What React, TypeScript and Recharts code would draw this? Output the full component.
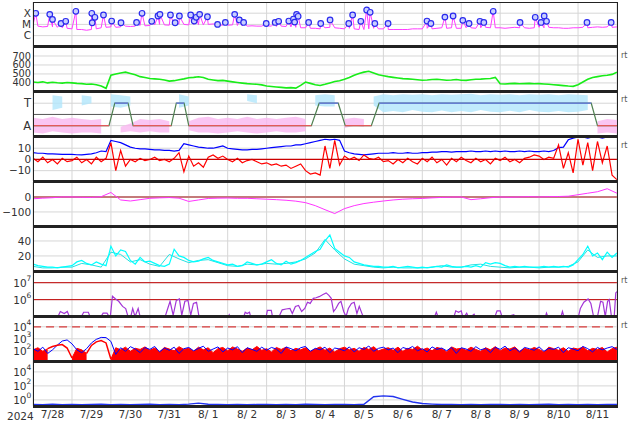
import React from 'react'
import { ComposedChart, Line, Area, XAxis, YAxis, CartesianGrid, ReferenceLine } from 'recharts'

// --- layout (not data) ---
const W = 634
const AXIS_W = 33
const RIGHT = 17
const EDGES = [2, 46.8, 91.7, 136.6, 181.5, 226.4, 271.3, 316.2, 361.1, 406]
const FONT = 'DejaVu Sans, sans-serif'

// --- time axis: days since 2024-07-28 00:00 ---
const dayLabels = ['7/28', '7/29', '7/30', '7/31', '8/ 1', '8/ 2', '8/ 3', '8/ 4', '8/ 5', '8/ 6', '8/ 7', '8/ 8', '8/ 9', '8/10', '8/11']
const dayLines = [0, 1, 2, 3, 4, 5, 6, 7, 8, 9, 10, 11, 12, 13, 14, 15]
const labelTicks = dayLabels.map((_, i) => i + 0.5)

// X-ray background flux (1e-6 W/m2), every 3 h
const xrayBase = [
  9, 7, 6, 6.5, 6, 5.5, 5, 4.5,
  4, 3.5, 3.5, 3, 3.5, 4, 5, 5.5,
  6, 5.5, 6, 7, 6.5, 7, 8, 7.5,
  8, 9, 10, 9, 8.5, 10, 11, 10,
  9, 10, 9.5, 9, 10, 11, 9, 8.5,
  8.5, 9, 8, 7.5, 7, 7.5, 7, 7,
  7.5, 7, 6.5, 7, 6.5, 6, 5.5, 5,
  5, 4.5, 4.5, 4, 5, 5.5, 5, 4.5,
  4, 4.5, 4, 3.5, 3.5, 4, 4.5, 4,
  4, 3.5, 3.5, 3.5, 3.5, 3.5, 4, 4,
  4, 4.5, 4, 4.5, 5, 4.5, 5, 4.5,
  4.5, 5, 5, 4.5, 5, 5.5, 5, 5,
  5, 4.5, 5, 5.5, 5, 5, 4.5, 5,
  5.5, 5, 5.5, 5, 5, 4.5, 4.5, 5,
  5, 5.5, 5, 5.5, 6, 5.5, 6, 5.5,
  6,
]

// flare peaks (day, 1e-6 W/m2)
const flareDay = [
  0.07, 0.43, 0.5, 0.72, 0.84, 1.1, 1.51, 1.59, 1.52, 1.81, 2.02, 2.26, 2.66, 2.8, 3.05, 3.21,
  3.26, 3.53, 3.65, 3.76, 4.05, 4.14, 4.19, 4.28, 4.48, 4.74, 4.94, 5.18, 5.3, 5.41, 5.99, 6.22,
  6.31, 6.57, 6.69, 6.72, 6.77, 6.81, 7.08, 7.39, 7.63, 8.11, 8.21, 8.42, 8.57, 8.66, 8.78, 9.12,
  10.12, 10.22, 10.58, 10.79, 11.04, 11.2, 11.48, 11.58, 11.82, 12.51, 12.9, 13.05, 13.13, 13.19, 14.23, 14.85,
]
const flareFlux = [
  98, 79, 28, 12, 19, 148, 98, 43, 14, 69, 20, 14, 15, 98, 19, 56,
  79, 69, 14, 56, 69, 20, 43, 79, 48, 10, 15, 79, 25, 15, 12, 15,
  19, 20, 30, 16, 79, 53, 15, 12, 25, 12, 69, 19, 193, 120, 12, 12,
  20, 12, 45, 56, 23, 12, 19, 15, 148, 15, 43, 15, 56, 19, 15, 15,
]

// solar wind speed (km/s), every 3 h
const speed = [
  410, 405, 412, 400, 408, 402, 398, 405,
  400, 395, 392, 385, 388, 380, 365, 340,
  485, 500, 510, 520, 505, 490, 470, 460,
  450, 445, 440, 432, 420, 425, 435, 445,
  458, 462, 468, 460, 440, 432, 425, 428,
  420, 412, 405, 398, 392, 388, 385, 378,
  365, 360, 355, 350, 345, 348, 342, 372,
  410, 395, 380, 372, 385, 400, 415, 425,
  440, 460, 485, 505, 520, 530, 510, 490,
  480, 470, 462, 455, 448, 445, 440, 435,
  430, 432, 438, 440, 435, 430, 432, 438,
  430, 428, 435, 440, 442, 446, 450, 462,
  390, 388, 392, 395, 390, 392, 395, 390,
  392, 388, 385, 380, 375, 370, 365, 362,
  380, 410, 440, 460, 470, 480, 485, 495,
  520,
]

// T / A state: 1 = T, 0 = A
const stateDay = [0, 1.95, 2.1, 2.44, 2.57, 3.55, 3.68, 3.88, 4.0, 7.15, 7.35, 7.84, 8.02, 8.69, 8.89, 14.34, 14.5, 15]
const stateVal = [0, 0, 1, 1, 0, 0, 1, 1, 0, 0, 1, 1, 0, 0, 1, 1, 0, 0]

// scattered samples around A and T (every 6 h), low/high
const pinkLo = [
  -0.3, -0.35, -0.25, -0.3, -0.35, -0.3, -0.3, -0.35, null, -0.3, -0.25, -0.3, -0.25, -0.3, -0.3, null,
  -0.2, -0.3, -0.3, -0.35, -0.3, -0.25, -0.3, -0.35, -0.3, -0.25, -0.3, -0.3, -0.25, null, null, null,
  -0.1, 0.0, -0.05, null, null, null, null, null, null, null, null, null, null, null, null, null,
  null, null, null, null, null, null, null, null, null, null, -0.35, -0.3, -0.35,
]
const pinkHi = [
  0.35, 0.3, 0.4, 0.3, 0.35, 0.3, 0.25, 0.3, null, -0.05, 0.1, 0.3, 0.25, 0.3, 0.2, null,
  0.2, 0.35, 0.4, 0.3, 0.35, 0.3, 0.4, 0.3, 0.35, 0.3, 0.35, 0.4, 0.3, null, null, null,
  0.3, 0.35, 0.3, null, null, null, null, null, null, null, null, null, null, null, null, null,
  null, null, null, null, null, null, null, null, null, null, 0.2, 0.3, 0.25,
]
const blueLo = [
  null, null, 0.7, 0.8, null, 0.9, 1.0, null, 0.85, 0.8, 0.9, null, null, null, null, 0.8,
  0.9, null, null, null, null, null, 1.1, 1.0, null, null, null, null, null, 0.9, 0.85, 0.85,
  null, null, null, 0.9, 0.6, 0.65, 0.6, 0.7, 0.62, 0.6, 0.68, 0.6, 0.65, 0.6, 0.7, 0.62,
  0.6, 0.66, 0.6, 0.7, 0.62, 0.6, 0.65, 0.6, 0.62, 0.7, null, null, null,
]
const blueHi = [
  null, null, 1.35, 1.3, null, 1.35, 1.3, null, 1.4, 1.35, 1.3, null, null, null, null, 1.4,
  1.3, null, null, null, null, null, 1.4, 1.35, null, null, null, null, null, 1.35, 1.4, 1.35,
  null, null, null, 1.3, 1.4, 1.35, 1.4, 1.38, 1.4, 1.35, 1.4, 1.38, 1.4, 1.42, 1.36, 1.4,
  1.38, 1.4, 1.35, 1.4, 1.38, 1.4, 1.36, 1.4, 1.38, 1.35, null, null, null,
]

// IMF Bt and Bz (nT), every 3 h
const bt = [
  6, 5.5, 5.5, 5, 5, 4.8, 4.5, 4.5,
  4.5, 4.2, 4, 4.5, 5, 6, 7.5, 7,
  17, 16, 15, 13, 11, 10, 9.5, 9.5,
  9, 8.5, 8.5, 8, 8, 7.5, 8, 14,
  13, 12, 11, 10.5, 10, 10, 11, 12,
  10, 9.5, 9, 8.5, 8.5, 9, 9, 9.5,
  10, 10.5, 11, 11.5, 12, 12, 13, 13,
  14, 15, 16, 17, 18, 17.5, 18, 17,
  7.5, 6, 5, 4.5, 4, 4.5, 5, 5.5,
  5.5, 5.5, 6, 5.5, 5.5, 6, 5.5, 5.5,
  6, 6, 6.5, 6.5, 7, 7, 6.5, 7,
  7, 7, 7.5, 7, 7, 7.5, 7, 7.5,
  7, 7.5, 7, 7, 7.5, 7, 7.5, 7,
  7, 7.5, 7, 8, 10.5, 11, 17.5, 19,
  20, 20, 19, 20, 20, 19, 20, 20,
  20,
]
const bz = [
  1, -2, 2, -3, 0, -4, 1, -2,
  -1, 2, -3, 0, -4, 2, -2, 1,
  15, -10, 8, -6, 0, -2, 1, -1,
  0, 2, -1, 0, -2, 1, 6, -11,
  3, -6, -3, -7, 2, 4, 1, 3,
  0, -2, 1, -3, -1, 0, -2, -4,
  -3, -5, -4, -6, -5, -8, -6, -4,
  -10, -13, -12, -14, 12, -8, 17, -5,
  3, 0, 2, -1, 4, 1, 0, 2,
  -2, -1, -4, 0, -3, 1, -2, -4,
  1, -2, 2, -3, 0, -5, 1, -2,
  2, -1, -3, 1, -2, 0, -4, 1,
  -1, 2, -2, 0, -3, 1, 2, 4,
  3, 0, 2, 1, 13, -8, 6, -12,
  18, -5, 15, -10, 16, -3, 12, -14,
  -18,
]

// Dst (nT), every 6 h
const dst = [
  -12, -8, -5, 0, 0, -2, -3, 2,
  30, -20, -27, -18, -9, -6, -4, -8,
  -30, -20, -10, -8, -7, -9, -9, -12,
  -15, -18, -22, -28, -38, -58, -85, -111,
  -78, -58, -44, -35, -27, -20, -15, -12,
  -10, -6, -3, -1, 0, -18, -12, -5,
  0, -2, 0, 2, 0, 2, 3, 5,
  15, 25, 35, 55,
  25,
]

// density, two sources
const dens1 = [
  9, 7, 6, 5, 5, 4, 5, 6,
  7, 12, 14, 10, 8, 12, 9, 7,
  33, 20, 28, 26, 14, 9, 18, 12,
  13, 10, 7, 6, 9, 29, 20, 18,
  14, 12, 13, 16, 18, 14, 12, 10,
  8, 9, 6, 7, 12, 10, 8, 9,
  12, 15, 10, 8, 13, 9, 11, 14,
  18, 22, 26, 29, 40, 48, 30, 25,
  20, 18, 12, 10, 8, 7, 6, 6,
  5, 5, 6, 4, 5, 6, 5, 4,
  5, 4, 5, 6, 5, 8, 6, 5,
  5, 6, 5, 7, 5, 11, 9, 11,
  10, 7, 5, 6, 5, 6, 5, 5,
  5, 6, 5, 6, 5, 6, 5, 8,
  15, 22, 33, 20, 24, 15, 25, 18,
  24,
]
const dens2 = [
  6, 4, 4, 5, 5, 10, 8, 5,
  25, 22, 12, 15, 9, 6, 22, 16,
  11, 14, 15, 11, 7, 6, 9, 8,
  10, 9, 10, 12, 16, 24, 42, 28,
  16, 9, 7, 5, 4, 5, 4, 4,
  4, 5, 7, 5, 5, 8, 9, 6,
  5, 4, 5, 5, 4, 5, 5, 6,
  12, 28, 18, 20,
  20,
]

// proton flux
const protonDay = [
  0, 0.62, 0.7, 0.8, 0.88, 0.95, 1.22, 1.3, 1.42, 1.48, 1.72, 1.8, 1.9, 1.98,
  2.04, 2.12, 2.2, 2.3, 2.38, 2.44, 2.5, 2.56, 2.62, 2.7, 2.76,
  3.38, 3.46, 3.52, 3.6, 3.68, 3.76, 3.82, 3.9, 3.98, 4.05, 4.12, 4.2, 4.27,
  5.0, 5.04, 5.08, 5.4, 5.45, 5.5, 5.56, 5.6, 5.98, 6.02, 6.12, 6.16,
  6.3, 6.4, 6.5, 6.6, 6.66, 6.74, 6.82, 6.9, 6.98, 7.05, 7.12, 7.2, 7.27, 7.35, 7.45, 7.53, 7.6, 7.66,
  7.72, 7.78, 7.85, 7.91, 7.98, 8.04, 8.1, 8.18, 8.25, 8.32, 8.38, 8.45, 8.5,
  10.3, 10.36, 10.42, 10.8, 10.86, 10.93, 11.0, 11.05, 11.14, 11.2, 11.33, 11.38,
  11.85, 11.92, 12.0, 12.06, 12.35, 12.4, 13.15, 13.19, 13.24, 13.55, 13.6, 13.65,
  14.0, 14.06, 14.15, 14.26, 14.33, 14.4, 14.5, 14.58, 14.64, 14.7, 14.76, 14.8, 14.86, 14.93, 14.97, 15,
]
const protonFlux = [
  8e4, 8e4, 2e5, 1.5e5, 2e5, 8e4, 8e4, 1.8e5, 1.8e5, 8e4, 8e4, 1.6e5, 1.6e5, 8e4,
  1.6e6, 1.1e6, 8e5, 4e5, 3e5, 1e5, 8e4, 3e5, 1e5, 3e5, 8e4,
  8e4, 3e5, 8e5, 1.2e5, 9e5, 1.1e6, 1.2e5, 8e5, 9e5, 1.2e5, 6e5, 7e5, 8e4,
  8e4, 1.3e5, 8e4, 8e4, 1.8e5, 1.5e5, 1.8e5, 8e4, 8e4, 2.3e5, 2.3e5, 8e4,
  8e4, 2.5e5, 2.8e5, 3e5, 1.5e5, 4e5, 4.5e5, 2e5, 3e5, 7e5, 6e5, 1.2e6, 1.3e6, 1.5e6, 2e6, 2.5e6, 1.8e6, 1.2e6,
  2e5, 3e5, 6e5, 8e5, 2e5, 1e5, 3e5, 6e5, 7e5, 1.5e5, 4e5, 1.5e5, 8e4,
  8e4, 1.8e5, 8e4, 8e4, 2.2e5, 1.8e5, 2.2e5, 8e4, 1.6e5, 8e4, 1.4e5, 8e4,
  8e4, 2.2e5, 2.2e5, 8e4, 1.3e5, 8e4, 8e4, 1.6e5, 8e4, 8e4, 2e5, 8e4,
  8e4, 3e5, 7e5, 1.1e6, 6e5, 1e5, 1e5, 8e5, 7e5, 1e5, 8e5, 1e6, 1e5, 1e5, 2.5e6, 3e6,
]

// electron flux, every 3 h
const eRedFill = [
  120, 180, 90, 150, null, null, null, null,
  25, 160, 120, 60, null, null, null, null,
  20, 180, 120, 200, 90, 160, 130, 210,
  110, 170, 80, 190, 140, 100, 220, 130,
  160, 90, 200, 120, 180, 70, 150, 190,
  100, 210, 140, 90, 170, 120, 230, 110,
  150, 80, 190, 130, 200, 100, 160, 120,
  180, 90, 140, 210, 110, 170, 80, 150,
  200, 120, 160, 90, 190, 130, 220, 100,
  140, 180, 110, 200, 90, 160, 130, 240,
  120, 170, 100, 190, 150, 80, 210, 140,
  160, 110, 200, 130, 90, 180, 120, 220,
  100, 170, 140, 210, 90, 160, 120, 190,
  130, 80, 200, 150, 110, 180, 90, 170,
  140, 210, 100, 160, 130, 190, 80, 150,
  200,
]
const eRedHump = [
  null, null, null, 150, 230, 290, 330, 170,
  25, null, null, 60, 280, 550, 700, 450,
  20,
]
const eBlue = [
  150, 90, 200, 60, 120, 300, 650, 800,
  380, 120, 70, 150, 450, 900, 1300, 1250,
  600, 50, 180, 90, 220, 140, 70, 190,
  130, 230, 80, 170, 110, 200, 60, 150,
  190, 100, 160, 240, 90, 140, 210, 80,
  170, 120, 220, 70, 180, 130, 90, 200,
  110, 190, 140, 60, 210, 150, 100, 180,
  230, 90, 160, 120, 200, 70, 170, 140,
  100, 210, 80, 180, 130, 250, 90, 160,
  200, 120, 170, 70, 190, 140, 230, 100,
  150, 80, 210, 130, 170, 100, 190, 60,
  180, 140, 90, 220, 120, 160, 70, 200,
  130, 240, 100, 170, 80, 190, 150, 110,
  210, 90, 160, 130, 200, 70, 180, 140,
  100, 230, 150, 80, 190, 120, 170, 220,
  130,
]

// bottom panel, every 6 h
const lowFlux = [
  0.22, 0.2, 0.24, 0.21, 0.23, 0.2, 0.22, 0.24,
  0.21, 0.23, 0.2, 0.22, 0.24, 0.21, 0.22, 0.2,
  0.25, 0.35, 0.24, 0.22, 0.21, 0.23, 0.2, 0.22,
  0.23, 0.21, 0.22, 0.2, 0.24, 0.22, 0.21, 0.23,
  0.22, 0.21, 0.24, 2.8, 3.7, 3.0, 1.2, 0.5,
  0.3, 0.25, 0.22, 0.23, 0.21, 0.22, 0.2, 0.23,
  0.22, 0.21, 0.23, 0.2, 0.22, 0.24, 0.21, 0.22,
  0.2, 0.22, 0.21, 0.23,
  0.22,
]

// --- rows built from the arrays above ---
const rows = (vals: (number | null)[], step: number) => vals.map((v, i) => ({ d: i * step, v }))
const flareRows = flareDay.map((d, i) => ({ d, v: flareFlux[i] }))
const xrayRows = [...rows(xrayBase, 0.125), ...flareRows].sort((a, b) => a.d - b.d)
const stateRows = stateDay.map((d, i) => ({
  d,
  v: stateVal[i],
  a: stateVal[i] === 0 ? 0 : null,
  t: stateVal[i] === 1 ? 1 : null,
}))
const pinkRows = pinkLo.map((lo, i) => ({ d: i * 0.25, lo, hi: pinkHi[i] }))
const cloudRows = blueLo.map((lo, i) => ({ d: i * 0.25, lo, hi: blueHi[i] }))
const rangeKey = (r: any) => (r.lo == null ? null : [r.lo, r.hi])
const protonRows = protonDay.map((d, i) => ({ d, v: protonFlux[i] }))

// --- ticks ---
const textTick = (fmt: (v: number) => string, size = 10.5) => (p: any) => (
  <text x={p.x} y={p.y} dy={size * 0.36} textAnchor="end" fontSize={size} fill="#333" fontFamily={FONT}>
    {fmt(p.payload.value)}
  </text>
)
const powTick = (p: any) => {
  const e = Math.round(Math.log10(p.payload.value))
  return (
    <g>
      <text x={p.x - 4.5} y={p.y + 4} textAnchor="end" fontSize={10.5} fill="#333" fontFamily={FONT}>10</text>
      <text x={p.x - 4.5} y={p.y - 1.5} textAnchor="start" fontSize={7.5} fill="#333" fontFamily={FONT}>{e}</text>
    </g>
  )
}
const num = (v: number) => (v < 0 ? '\u2212' + Math.abs(v) : String(v))
const flareClass: Record<number, string> = { 100: 'X', 10: 'M', 1: 'C' }

type PanelProps = {
  i: number
  domain: [number, number]
  ticks: number[]
  log?: boolean
  tick: any
  bottomAxis?: boolean
  children: React.ReactNode
}

function Panel({ i, domain, ticks, log, tick, bottomAxis, children }: PanelProps) {
  const h = EDGES[i + 1] - EDGES[i]
  const full = h + (bottomAxis ? 18 : 0)
  return (
    <div style={{ position: 'absolute', left: 0, top: EDGES[i], width: W, height: full }}>
      <ComposedChart width={W} height={full} margin={{ top: 0, right: RIGHT, bottom: 0, left: 0 }}>
        <CartesianGrid stroke="#d6d6d6" />
        {bottomAxis && (
          <XAxis
            xAxisId="lab"
            dataKey="d"
            type="number"
            domain={[0, 15]}
            ticks={labelTicks}
            interval={0}
            tickFormatter={(v) => dayLabels[Math.floor(v)]}
            axisLine={false}
            tickLine={false}
            tickSize={0}
            tickMargin={5}
            height={18}
            tick={{ fontSize: 10.5, fill: '#333', fontFamily: FONT }}
            allowDataOverflow
          />
        )}
        <XAxis dataKey="d" type="number" domain={[0, 15]} ticks={dayLines} hide height={0} allowDataOverflow />
        <YAxis
          type="number"
          width={AXIS_W}
          domain={domain}
          scale={log ? 'log' : 'linear'}
          ticks={ticks}
          interval={0}
          tick={tick}
          tickSize={0}
          tickMargin={2}
          axisLine={false}
          tickLine={false}
          allowDataOverflow
        />
        {children}
      </ComposedChart>
    </div>
  )
}

const rtMarks = [57, 101, 147, 282, 327]

export default function App() {
  return (
    <div style={{ position: 'fixed', left: 0, top: 0, width: W, height: 424, background: '#fff', fontFamily: FONT }}>
      <Panel i={0} domain={[0.1, 1000]} ticks={[100, 10, 1]} log tick={textTick((v) => flareClass[v] ?? '', 10.5)}>
        <Line data={xrayRows} dataKey="v" stroke="#ff3cff" strokeWidth={1} dot={false} isAnimationActive={false} />
        <Line
          data={flareRows}
          dataKey="v"
          stroke="none"
          dot={{ r: 2.8, fill: '#c9cfff', stroke: '#2a2aee', strokeWidth: 1.2 }}
          activeDot={false}
          isAnimationActive={false}
        />
      </Panel>

      <Panel i={1} domain={[300, 800]} ticks={[700, 600, 500, 400]} tick={textTick(num, 9.8)}>
        <Line data={rows(speed, 0.125)} dataKey="v" stroke="#19ec19" strokeWidth={1.6} dot={false} isAnimationActive={false} />
      </Panel>

      <Panel i={2} domain={[-0.5, 1.5]} ticks={[1, 0]} tick={textTick((v) => (v === 1 ? 'T' : 'A'), 11.5)}>
        <Area data={pinkRows} dataKey={rangeKey} stroke="none" fill="#f9b6f0" fillOpacity={0.8} isAnimationActive={false} />
        <Area data={cloudRows} dataKey={rangeKey} stroke="none" fill="#b2e6fb" fillOpacity={0.8} isAnimationActive={false} />
        <ReferenceLine y={0.5} stroke="#555" strokeWidth={1} />
        <Line data={stateRows} dataKey="v" stroke="#4f8050" strokeWidth={1.2} dot={false} isAnimationActive={false} />
        <Line data={stateRows} dataKey="a" stroke="#e25a5a" strokeWidth={1.2} dot={false} isAnimationActive={false} />
        <Line data={stateRows} dataKey="t" stroke="#6677ee" strokeWidth={1.2} dot={false} isAnimationActive={false} />
      </Panel>

      <Panel i={3} domain={[-20, 20]} ticks={[10, 0, -10]} tick={textTick(num)}>
        <Line data={rows(bt, 0.125)} dataKey="v" stroke="#0000ff" strokeWidth={1.2} dot={false} isAnimationActive={false} />
        <Line data={rows(bz, 0.125)} dataKey="v" stroke="#ff0000" strokeWidth={1.2} dot={false} isAnimationActive={false} />
        <ReferenceLine y={0} stroke="#cc0000" strokeWidth={1.2} />
      </Panel>

      <Panel i={4} domain={[-200, 100]} ticks={[0, -100]} tick={textTick(num)}>
        <ReferenceLine y={0} stroke="#c47a7a" strokeWidth={2} />
        <Line data={rows(dst, 0.25)} dataKey="v" stroke="#ff33ff" strokeWidth={1} dot={false} isAnimationActive={false} />
      </Panel>

      <Panel i={5} domain={[0, 60]} ticks={[40, 20]} tick={textTick(num)}>
        <Line data={rows(dens2, 0.25)} dataKey="v" stroke="#22e0e0" strokeWidth={1} dot={false} isAnimationActive={false} />
        <Line data={rows(dens1, 0.125)} dataKey="v" stroke="#00ffff" strokeWidth={1.2} dot={false} isAnimationActive={false} />
      </Panel>

      <Panel i={6} domain={[1.1e5, 4.9e7]} ticks={[1e7, 1e6]} log tick={powTick}>
        <ReferenceLine y={1e7} stroke="#c00000" strokeWidth={1} />
        <ReferenceLine y={1e6} stroke="#c00000" strokeWidth={1} />
        <Line data={protonRows} dataKey="v" stroke="#a335d6" strokeWidth={1.2} dot={false} isAnimationActive={false} />
      </Panel>

      <Panel i={7} domain={[14.4, 79000]} ticks={[1e4, 1e3, 1e2]} log tick={powTick}>
        <ReferenceLine y={1e4} stroke="#d83a3a" strokeWidth={1.2} strokeDasharray="8 5" />
        <Area data={rows(eRedFill, 0.125)} dataKey="v" stroke="#ff0000" fill="#ff0000" fillOpacity={1} isAnimationActive={false} />
        <Line data={rows(eBlue, 0.125)} dataKey="v" stroke="#0000ff" strokeWidth={1} dot={false} isAnimationActive={false} />
        <Line data={rows(eRedHump, 0.125)} dataKey="v" stroke="#ff0000" strokeWidth={1.5} dot={false} isAnimationActive={false} />
      </Panel>

      <Panel i={8} domain={[0.139, 3.6e5]} ticks={[1e4, 1e2, 1]} log tick={powTick} bottomAxis>
        <Line data={rows(lowFlux, 0.25)} dataKey="v" stroke="#2233ee" strokeWidth={1.4} dot={false} isAnimationActive={false} />
      </Panel>

      {/* frame */}
      {EDGES.map((y, k) => (
        <div
          key={k}
          style={{
            position: 'absolute',
            left: AXIS_W - 0.5,
            top: k === 0 ? y - 0.5 : y - 1.5,
            width: W - AXIS_W - RIGHT + 1,
            height: k === 0 ? 1 : 3,
            background: '#222',
          }}
        />
      ))}
      <div style={{ position: 'absolute', left: AXIS_W - 0.5, top: EDGES[0], width: 1, height: EDGES[9] - EDGES[0], background: '#222' }} />
      <div style={{ position: 'absolute', left: W - RIGHT - 0.5, top: EDGES[0], width: 1, height: EDGES[9] - EDGES[0], background: '#222' }} />

      {rtMarks.map((y) => (
        <span key={y} style={{ position: 'absolute', left: 621, top: y - 6, fontSize: 8, color: '#555', lineHeight: '10px' }}>rt</span>
      ))}
      <span style={{ position: 'absolute', left: 7, top: 410, fontSize: 10.5, color: '#333', lineHeight: '13px' }}>2024</span>
    </div>
  )
}
